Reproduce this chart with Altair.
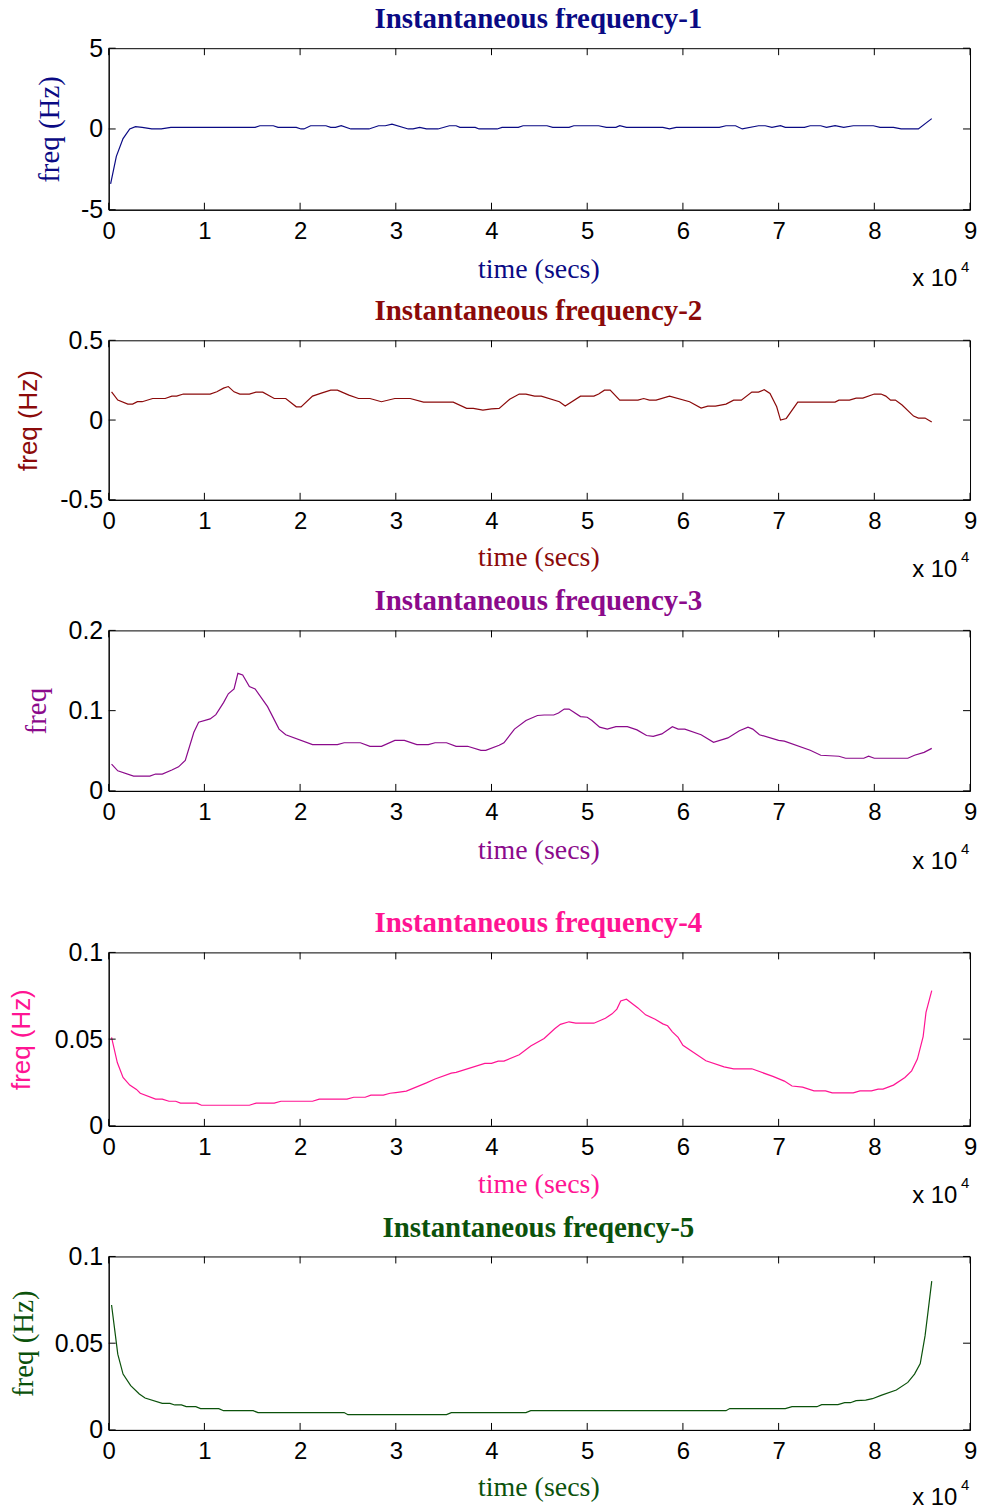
import altair as alt
import pandas as pd

# ---------------- data (time in units of 1e4 s) ----------------
T1 = [0.02, 0.08, 0.15, 0.22, 0.28, 0.35, 0.45, 0.55, 0.65, 1.53, 1.58, 1.72, 1.77, 1.96,
      2.01, 2.04, 2.11, 2.27, 2.32, 2.37, 2.43, 2.53, 2.72, 2.82, 2.89, 2.96, 3.13, 3.18,
      3.25, 3.32, 3.44, 3.56, 3.63, 3.67, 3.83, 3.87, 4.06, 4.11, 4.28, 4.33, 4.58, 4.64,
      4.81, 4.86, 5.12, 5.2, 5.3, 5.34, 5.41, 5.79, 5.86, 5.93, 6.38, 6.45, 6.55, 6.62,
      6.79, 6.86, 6.93, 7.02, 7.07, 7.27, 7.33, 7.44, 7.5, 7.59, 7.68, 7.78, 7.99, 8.06,
      8.2, 8.28, 8.46, 8.6]
F1 = [-3.4, -1.7, -0.6, 0.0, 0.14, 0.1, 0.0, 0.0, 0.1, 0.1, 0.2, 0.2, 0.1, 0.1,
      0.0, 0.0, 0.2, 0.2, 0.1, 0.1, 0.2, 0.0, 0.0, 0.2, 0.2, 0.3, 0.0, 0.0,
      0.1, 0.0, 0.0, 0.2, 0.2, 0.1, 0.1, 0.0, 0.0, 0.1, 0.1, 0.2, 0.2, 0.1,
      0.1, 0.2, 0.2, 0.1, 0.1, 0.2, 0.1, 0.1, 0.0, 0.1, 0.1, 0.2, 0.2, 0.0,
      0.2, 0.2, 0.1, 0.2, 0.1, 0.1, 0.2, 0.2, 0.1, 0.2, 0.1, 0.2, 0.2, 0.1,
      0.1, 0.0, 0.0, 0.64]

T2 = [0.03, 0.095, 0.2, 0.25, 0.3, 0.35, 0.46, 0.59, 0.66, 0.71, 0.78, 1.06, 1.13, 1.2,
      1.25, 1.31, 1.37, 1.47, 1.54, 1.61, 1.73, 1.85, 1.96, 2.01, 2.13, 2.23, 2.32, 2.39,
      2.51, 2.61, 2.73, 2.85, 2.99, 3.15, 3.29, 3.6, 3.74, 3.81, 3.91, 4.0, 4.08, 4.19,
      4.29, 4.36, 4.45, 4.52, 4.71, 4.77, 4.93, 5.07, 5.12, 5.18, 5.24, 5.34, 5.53, 5.59,
      5.65, 5.72, 5.86, 6.07, 6.19, 6.26, 6.34, 6.45, 6.53, 6.61, 6.72, 6.79, 6.85, 6.91,
      6.98, 7.02, 7.08, 7.2, 7.59, 7.63, 7.74, 7.81, 7.88, 8.0, 8.07, 8.12, 8.17, 8.22,
      8.29, 8.41, 8.46, 8.53, 8.6]
F2 = [0.177, 0.125, 0.1, 0.1, 0.115, 0.115, 0.135, 0.135, 0.15, 0.15, 0.163, 0.163, 0.177, 0.2,
      0.21, 0.177, 0.163, 0.163, 0.175, 0.175, 0.135, 0.135, 0.083, 0.083, 0.15, 0.17, 0.1875, 0.1875,
      0.156, 0.135, 0.135, 0.115, 0.135, 0.135, 0.1125, 0.1125, 0.073, 0.073, 0.0625, 0.07, 0.073, 0.13,
      0.163, 0.163, 0.15, 0.15, 0.115, 0.0875, 0.15, 0.15, 0.163, 0.1875, 0.1875, 0.125, 0.125, 0.135,
      0.125, 0.125, 0.15, 0.115, 0.075, 0.0875, 0.0875, 0.1, 0.125, 0.125, 0.175, 0.175, 0.19, 0.167,
      0.083, 0.0, 0.01, 0.1125, 0.1125, 0.125, 0.125, 0.1375, 0.1375, 0.163, 0.163, 0.15, 0.125, 0.125,
      0.094, 0.025, 0.0125, 0.0125, -0.0125]

T3 = [0.03, 0.095, 0.26, 0.43, 0.49, 0.56, 0.66, 0.73, 0.8, 0.89, 0.94, 1.06, 1.12, 1.2,
      1.25, 1.31, 1.35, 1.4, 1.47, 1.53, 1.66, 1.78, 1.85, 2.13, 2.39, 2.46, 2.63, 2.73,
      2.85, 2.99, 3.09, 3.22, 3.34, 3.41, 3.53, 3.63, 3.75, 3.89, 3.94, 4.08, 4.13, 4.24,
      4.36, 4.48, 4.55, 4.65, 4.7, 4.76, 4.81, 4.93, 5.0, 5.05, 5.13, 5.21, 5.3, 5.42,
      5.52, 5.62, 5.69, 5.78, 5.89, 5.95, 6.02, 6.19, 6.32, 6.47, 6.59, 6.68, 6.73, 6.8,
      7.0, 7.06, 7.33, 7.44, 7.63, 7.7, 7.89, 7.94, 8.0, 8.35, 8.42, 8.52, 8.6]
F3 = [0.0333, 0.025, 0.0185, 0.0185, 0.021, 0.021, 0.026, 0.030, 0.038, 0.073, 0.0856, 0.0897, 0.095, 0.110,
      0.121, 0.127, 0.1465, 0.1444, 0.130, 0.127, 0.105, 0.077, 0.070, 0.0576, 0.0576, 0.060, 0.060, 0.0556,
      0.0556, 0.063, 0.063, 0.0576, 0.0576, 0.060, 0.060, 0.0556, 0.0556, 0.0506, 0.0506, 0.0568, 0.060, 0.077,
      0.0877, 0.094, 0.0946, 0.0946, 0.097, 0.102, 0.102, 0.0926, 0.0918, 0.0877, 0.0794, 0.077, 0.080, 0.080,
      0.076, 0.069, 0.068, 0.071, 0.080, 0.077, 0.077, 0.070, 0.0605, 0.066, 0.075, 0.0794, 0.077, 0.070,
      0.063, 0.062, 0.0506, 0.0444, 0.0432, 0.0407, 0.0407, 0.0432, 0.0407, 0.0407, 0.0444, 0.048, 0.053]

T4 = [0.03, 0.09, 0.15, 0.22, 0.29, 0.33, 0.49, 0.56, 0.63, 0.7, 0.75, 0.92, 0.97, 1.47,
      1.54, 1.73, 1.8, 2.13, 2.2, 2.49, 2.56, 2.68, 2.74, 2.87, 2.94, 3.0, 3.11, 3.32,
      3.41, 3.58, 3.63, 3.93, 4.0, 4.07, 4.13, 4.29, 4.41, 4.55, 4.66, 4.72, 4.81, 4.88,
      5.07, 5.19, 5.26, 5.31, 5.35, 5.41, 5.53, 5.61, 5.71, 5.79, 5.84, 5.89, 5.95, 6.0,
      6.24, 6.43, 6.53, 6.72, 6.94, 7.06, 7.14, 7.25, 7.37, 7.49, 7.56, 7.78, 7.85, 7.97,
      8.04, 8.09, 8.2, 8.32, 8.39, 8.45, 8.51, 8.54, 8.6]
F4 = [0.051, 0.0365, 0.0279, 0.0235, 0.021, 0.0188, 0.0154, 0.0154, 0.0142, 0.0142, 0.0131, 0.0131, 0.0119, 0.0119,
      0.0131, 0.0131, 0.0142, 0.0142, 0.0154, 0.0154, 0.0165, 0.0165, 0.0177, 0.0177, 0.0188, 0.0192, 0.020, 0.0248,
      0.027, 0.0304, 0.0308, 0.036, 0.036, 0.0373, 0.0373, 0.041, 0.046, 0.0504, 0.056, 0.0585, 0.060, 0.0592,
      0.0592, 0.062, 0.0646, 0.0673, 0.072, 0.073, 0.068, 0.064, 0.0615, 0.0588, 0.0577, 0.0542, 0.051, 0.0465,
      0.0375, 0.034, 0.0329, 0.0329, 0.0285, 0.0258, 0.023, 0.0223, 0.0202, 0.0202, 0.019, 0.019, 0.0202, 0.0202,
      0.0212, 0.0212, 0.0235, 0.0279, 0.0317, 0.0385, 0.0515, 0.0654, 0.078]

T5 = [0.03, 0.06, 0.095, 0.15, 0.23, 0.32, 0.38, 0.56, 0.64, 0.69, 0.76, 0.81, 0.91, 0.96,
      1.15, 1.2, 1.51, 1.56, 2.46, 2.5, 3.53, 3.58, 4.36, 4.41, 6.45, 6.49, 7.07, 7.14,
      7.4, 7.45, 7.62, 7.69, 7.75, 7.81, 7.91, 7.98, 8.07, 8.23, 8.35, 8.42, 8.48, 8.53,
      8.56, 8.6]
F5 = [0.072, 0.059, 0.0437, 0.0322, 0.0255, 0.0207, 0.0184, 0.0153, 0.0153, 0.0144, 0.0144, 0.0134, 0.0134, 0.0123,
      0.0123, 0.0111, 0.0111, 0.010, 0.010, 0.0088, 0.0088, 0.010, 0.010, 0.0111, 0.0111, 0.0123, 0.0123, 0.0134,
      0.0134, 0.0146, 0.0146, 0.0157, 0.0157, 0.0169, 0.0172, 0.018, 0.0199, 0.023, 0.0274, 0.0322, 0.0383, 0.0542,
      0.0676, 0.0858]

X_TICKS = [0, 1, 2, 3, 4, 5, 6, 7, 8, 9]

TITLES = ["Instantaneous frequency-1", "Instantaneous frequency-2", "Instantaneous frequency-3",
          "Instantaneous frequency-4", "Instantaneous freqency-5"]
COLORS = ["#0A0A84", "#8B0A0A", "#8B0A8B", "#FF1493", "#0B520B"]
Y_DOMAINS = [[-5, 5], [-0.5, 0.5], [0, 0.2], [0, 0.1], [0, 0.1]]
Y_TICKS = [[-5, 0, 5], [-0.5, 0, 0.5], [0, 0.1, 0.2], [0, 0.05, 0.1], [0, 0.05, 0.1]]
Y_TITLES = ["freq (Hz)", "freq (Hz)", "freq", "freq (Hz)", "freq (Hz)"]
Y_TITLE_FONTS = ["Liberation Serif", "Liberation Sans", "Liberation Serif", "Liberation Sans", "Liberation Serif"]
Y_TITLE_SIZES = [29, 26, 29, 26, 29]
Y_TITLE_X = [-59, -80, -72, -87, -85]
HEIGHTS = [162, 160, 161, 174, 174]
X_TITLE_Y = [60, 58, 60, 59, 58]
EXP_Y = [77, 77, 78, 77, 75]
EXTRA_BOTTOM = [0, 0, 35, 0, 0]

SERIES = [(T1, F1), (T2, F2), (T3, F3), (T4, F4), (T5, F5)]

W = 864
LEFT = 99
SANS = "Liberation Sans"
SERIF = "Liberation Serif"


def panel(i):
    t, f = SERIES[i]
    H = HEIGHTS[i]
    col = COLORS[i]
    df = pd.DataFrame({"time": [v * 1e4 for v in t], "freq": f})
    xs = alt.Scale(domain=[0, 90000], nice=False, zero=False)
    ys = alt.Scale(domain=Y_DOMAINS[i], nice=False, zero=False)
    xvals = [v * 1e4 for v in X_TICKS]

    x_axis = alt.Axis(
        values=xvals, labelExpr="format(datum.value / 10000, 'd')",
        labelFont=SANS, labelFontSize=24, labelColor="black", labelPadding=10,
        labelFlush=False, labelOverlap=False, ticks=False, grid=False,
        domainColor="black", title="time (secs)", titleFont=SERIF,
        titleFontSize=28, titleFontWeight="normal", titleColor=col,
        titleY=X_TITLE_Y[i], titleBaseline="middle", titleX=W / 2 - 1)
    y_axis = alt.Axis(
        values=Y_TICKS[i],
        labelExpr="(datum.value < 0 ? '-' : '') + format(abs(datum.value), '~g')",
        labelFont=SANS, labelFontSize=25, labelColor="black", labelPadding=6,
        labelFlush=False, labelOverlap=False, ticks=False, grid=False,
        domainColor="black", title=Y_TITLES[i], titleFont=Y_TITLE_FONTS[i],
        titleFontSize=Y_TITLE_SIZES[i], titleFontWeight="normal", titleColor=col,
        titleX=Y_TITLE_X[i], titleBaseline="middle", titleAlign="center", titleAngle=270)

    line = alt.Chart(df).mark_line(color=col, strokeWidth=1.2).encode(
        x=alt.X("time:Q", scale=xs, axis=x_axis),
        y=alt.Y("freq:Q", scale=ys, axis=y_axis),
    )

    xt = pd.DataFrame({"time": xvals})
    yt = pd.DataFrame({"freq": Y_TICKS[i]})
    tick_top = alt.Chart(xt).mark_rule(color="black", strokeWidth=1).encode(
        x=alt.X("time:Q", scale=xs, axis=x_axis), y=alt.value(0), y2=alt.value(7))
    tick_bot = alt.Chart(xt).mark_rule(color="black", strokeWidth=1).encode(
        x=alt.X("time:Q", scale=xs, axis=x_axis), y=alt.value(H - 7), y2=alt.value(H))
    tick_l = alt.Chart(yt).mark_rule(color="black", strokeWidth=1).encode(
        y=alt.Y("freq:Q", scale=ys, axis=y_axis), x=alt.value(0), x2=alt.value(7))
    tick_r = alt.Chart(yt).mark_rule(color="black", strokeWidth=1).encode(
        y=alt.Y("freq:Q", scale=ys, axis=y_axis), x=alt.value(W - 7), x2=alt.value(W))

    one = pd.DataFrame({"a": [0]})
    exp_base = alt.Chart(one).mark_text(text="x 10", font=SANS, fontSize=24, align="left",
                                        baseline="alphabetic", color="black").encode(
        x=alt.value(W - 58), y=alt.value(H + EXP_Y[i]))
    exp_sup = alt.Chart(one).mark_text(text="4", font=SANS, fontSize=15, align="left",
                                       baseline="alphabetic", color="black").encode(
        x=alt.value(W - 9), y=alt.value(H + EXP_Y[i] - 15))
    # invisible spacer that fixes the left extent (and the extra gap under panel 3)
    spacer = alt.Chart(one).mark_rule(color="white", strokeWidth=1).encode(
        x=alt.value(-LEFT), x2=alt.value(-LEFT + 1),
        y=alt.value(H), y2=alt.value(H + EXP_Y[i] + EXTRA_BOTTOM[i]))

    return alt.layer(line, tick_top, tick_bot, tick_l, tick_r, exp_base, exp_sup, spacer).properties(
        width=W, height=H,
        title=alt.TitleParams(TITLES[i], font=SERIF, fontSize=29, fontWeight="bold", color=col,
                              anchor="middle", frame="group", baseline="alphabetic", offset=-21, dx=-1),
    )


chart = alt.vconcat(*[panel(i) for i in range(5)], spacing=4).properties(
    padding={"left": 0, "top": -6, "right": 0, "bottom": 0},
    background="white",
).configure_view(stroke="black", strokeWidth=1)

chart.save("out.html", embed_options={"renderer": "svg", "actions": False})
